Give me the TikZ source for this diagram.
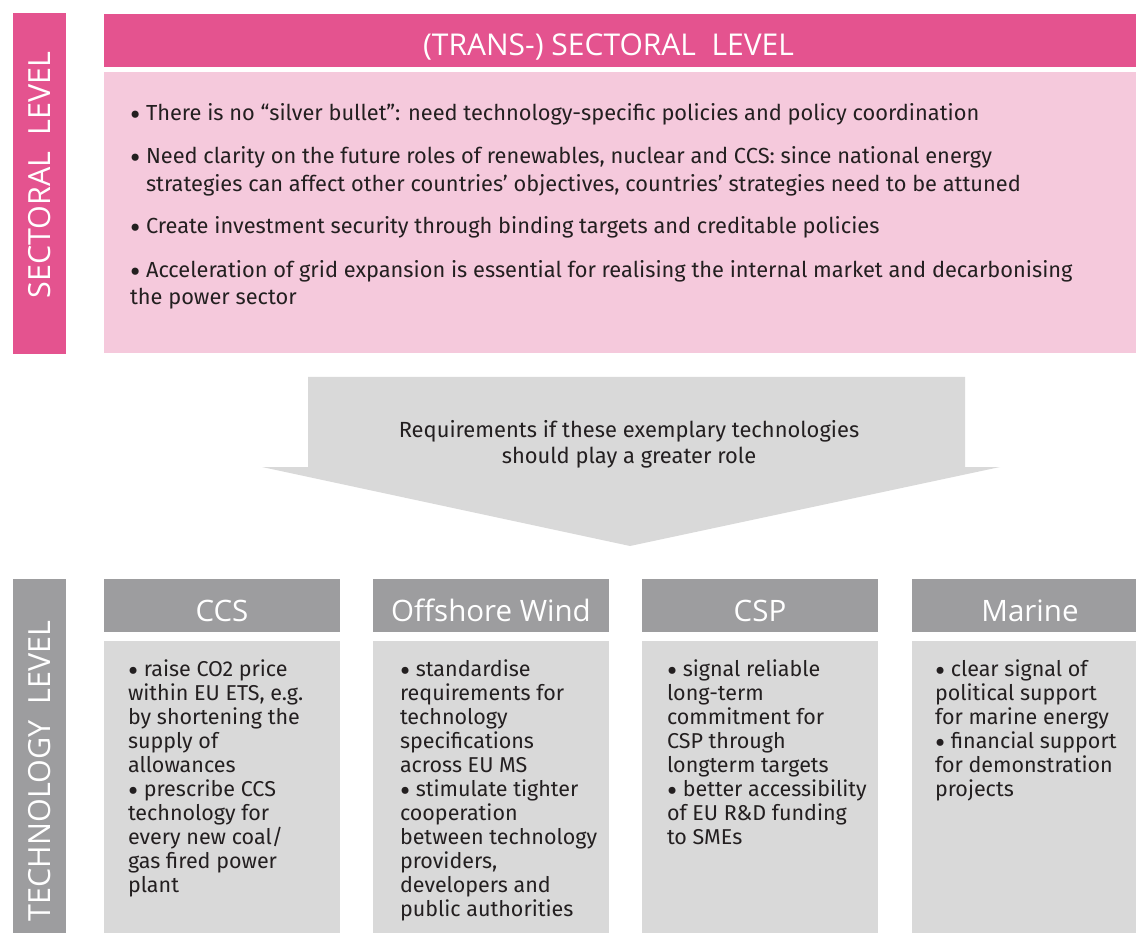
\documentclass[tikz,border=0pt]{standalone}
\usepackage{fontspec}
\setmainfont{Fira Sans}
\newfontfamily\headfont{Open Sans}
\usetikzlibrary{positioning}

\definecolor{secpink}{HTML}{E4538F}
\definecolor{lightpink}{HTML}{F5C9DC}
\definecolor{techgray}{HTML}{9D9D9F}
\definecolor{lightgray}{HTML}{D9D9D9}
\definecolor{inkblack}{HTML}{231F20}

\newcommand{\bul}{\smash{\raisebox{-0.23em}{\scalebox{1.45}{\textbullet}}}\ }

\begin{document}
\begin{tikzpicture}[x=1pt,y=-1pt,inner sep=0pt,outer sep=0pt]

  \tikzstyle{panel}=[rectangle,anchor=north west]
  \tikzstyle{level text}=[rotate=90,text=white,font=\headfont\fontsize{30.5}{32}\selectfont]
  \tikzstyle{head text}=[anchor=base,text=white,font=\headfont\fontsize{29.5}{32}\selectfont]
  \tikzstyle{sector text}=[anchor=north west,align=left,text=inkblack,font=\fontsize{21.8}{27.5}\selectfont]
  \tikzstyle{tech head}=[panel,fill=techgray,minimum width=236pt,minimum height=53pt]
  \tikzstyle{tech body}=[panel,fill=lightgray,minimum width=236pt,minimum height=300pt]
  \tikzstyle{tech text}=[anchor=north west,align=left,text=inkblack,font=\fontsize{21.5}{24}\selectfont]

  \useasboundingbox (0,0) rectangle (1136,933);
  \clip (0,0) rectangle (1136,933);

  % level bars on the left
  \node[panel,fill=secpink,minimum width=53pt,minimum height=341pt] (sectbar) at (13,13) {};
  \node[level text] (sectlabel) at (40,175) {SECTORAL\ \ LEVEL};
  \node[panel,fill=techgray,minimum width=53pt,minimum height=370pt] (techbar) at (13,579) {};
  \node[level text] (techlabel) at (40,771) {TECHNOLOGY\ \ LEVEL};

  % (trans-) sectoral level
  \node[panel,fill=secpink,minimum width=1040pt,minimum height=53pt] (secthead) at (104,14) {};
  \node[head text,font=\headfont\fontsize{30}{32}\selectfont] (secttitle) at (608.5,56) {(TRANS-) SECTORAL\ \ LEVEL};
  \node[panel,fill=lightpink,minimum width=1040pt,minimum height=281pt] (sectbody) at (104,72) {};
  \node[sector text] (sectpoints) at (130,103.5)
    {\bul There is no “silver bullet”: need technology-specific policies and policy coordination\\[15.5pt]
     \bul Need clarity on the future roles of renewables, nuclear and CCS: since national energy\\
     \hspace*{16pt}strategies can affect other countries’ objectives, countries’ strategies need to be attuned\\[14.5pt]
     \bul Create investment security through binding targets and creditable policies\\[16.5pt]
     \bul Acceleration of grid expansion is essential for realising the internal market and decarbonising\\
     the power sector};

  % arrow down to the technologies
  \fill[lightgray] (308,377) -- (965,377) -- (965,467) -- (1000,467) -- (630,546) -- (262,467) -- (308,467) -- cycle;
  \node[align=center,text=inkblack,font=\fontsize{21.9}{26}\selectfont] (require) at (629,444)
    {Requirements if these exemplary technologies\\should play a greater role};

  % technology columns
  \path (104,579)
        +(0,0)     node[tech head] (ccsh) {}
        +(0,62)    node[tech body] (ccsb) {}
        ++(269,0)
        +(0,0)     node[tech head] (windh) {}
        +(0,62)    node[tech body] (windb) {}
        ++(269,0)
        +(0,0)     node[tech head] (csph) {}
        +(0,62)    node[tech body] (cspb) {}
        ++(270,0)
        +(0,0)     node[tech head] (marh) {}
        +(0,62)    node[tech body] (marb) {}
        ;

  \node[head text] (ccsname) at (ccsh.center |- 0,621) {CCS};
  \node[head text] (windname) at (windh.center |- 0,621) {Offshore Wind};
  \node[head text] (cspname) at (csph.center |- 0,621) {CSP};
  \node[head text] (marname) at (marh.center |- 0,621) {Marine};

  \node[tech text] (ccst) at (128,660)
    {\bul raise CO2 price\\within EU ETS, e.g.\\by shortening the\\supply of\\allowances\\
     \bul prescribe CCS\\technology for\\every new coal/\\gas fired power\\plant};
  \node[tech text] (windt) at (400,660)
    {\bul standardise\\requirements for\\technology\\specifications\\across EU MS\\
     \bul stimulate tighter\\cooperation\\between technology\\providers,\\developers and\\public authorities};
  \node[tech text] (cspt) at (667,660)
    {\bul signal reliable\\long-term\\commitment for\\CSP through\\longterm targets\\
     \bul better accessibility\\of EU R\&D funding\\to SMEs};
  \node[tech text] (mart) at (935,660)
    {\bul clear signal of\\political support\\for marine energy\\
     \bul financial support\\for demonstration\\projects};

\end{tikzpicture}
\end{document}
